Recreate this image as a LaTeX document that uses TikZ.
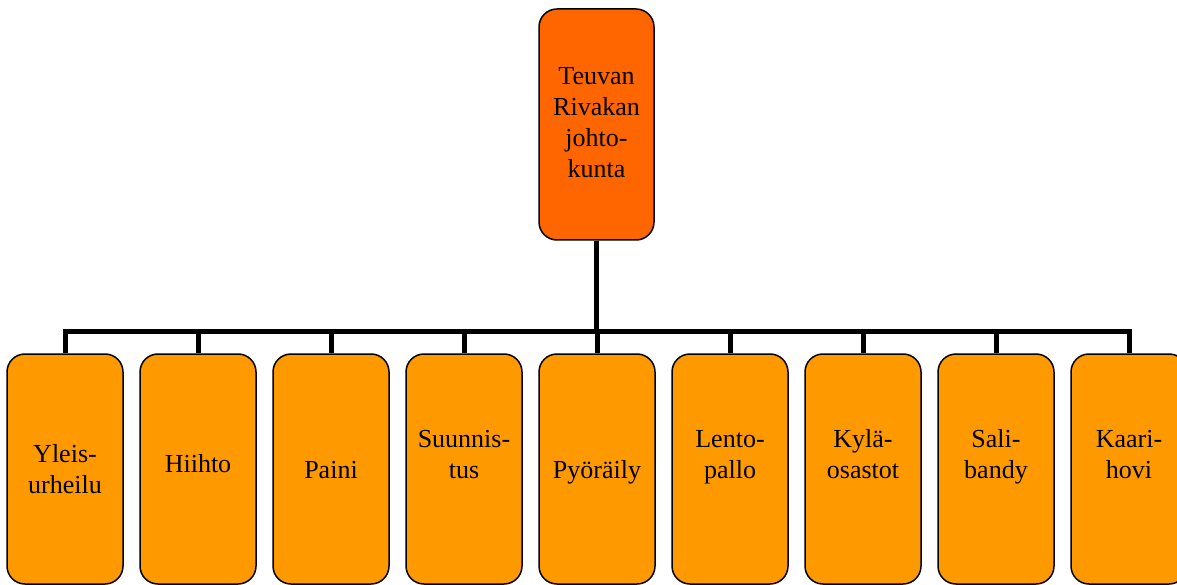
\documentclass[tikz,border=0pt]{standalone}
\usepackage{fontspec}
\setmainfont{Liberation Serif}
\definecolor{topcol}{HTML}{FF6600}
\definecolor{subcol}{HTML}{FF9900}
\tikzset{
  boxtop/.style={draw=black, line width=1.5pt, fill=topcol, rounded corners=18pt,
    minimum width=115pt, minimum height=231pt, inner sep=0pt},
  boxsub/.style={draw=black, line width=1.5pt, fill=subcol, rounded corners=18pt,
    minimum width=116pt, minimum height=230pt, inner sep=0pt},
  lbl/.style={align=center, inner sep=0pt, font=\fontsize{26}{31}\selectfont},
  conn/.style={line width=5pt, line join=miter, draw=black}
}
\begin{document}
\begin{tikzpicture}[x=1pt, y=-1pt]
\useasboundingbox (0,0) rectangle (1177,585);
% top box
\node[boxtop] (top) at (596.5,124.5) {};
% sub boxes
\node[boxsub] (c1) at (65,469) {};
\node[boxsub] (c2) at (198,469) {};
\node[boxsub] (c3) at (331,469) {};
\node[boxsub] (c4) at (464,469) {};
\node[boxsub] (c5) at (597,469) {};
\node[boxsub] (c6) at (730,469) {};
\node[boxsub] (c7) at (863,469) {};
\node[boxsub] (c8) at (996,469) {};
\node[boxsub] (c9) at (1129,469) {};
% connectors
\foreach \i in {1,...,9}{
  \draw[conn] (top.south) -- ++(0,91) -| (c\i.north);
}
% labels
\node[lbl] (ltop) at (596.5,125.3) {Teuvan\strut\\Rivakan\strut\\johto-\strut\\kunta\strut};
\node[lbl] (l1) at (65,472) {Yleis-\strut\\urheilu\strut};
\node[lbl] (l2) at (198,466) {Hiihto\strut};
\node[lbl] (l3) at (331,472) {Paini\strut};
\node[lbl] (l4) at (464,456.3) {Suunnis-\strut\\tus\strut};
\node[lbl] (l5) at (597,472) {Pyöräily\strut};
\node[lbl] (l6) at (730,456.3) {Lento-\strut\\pallo\strut};
\node[lbl] (l7) at (863,456.3) {Kylä-\strut\\osastot\strut};
\node[lbl] (l8) at (996,456.3) {Sali-\strut\\bandy\strut};
\node[lbl] (l9) at (1129,456.3) {Kaari-\strut\\hovi\strut};
\end{tikzpicture}
\end{document}
